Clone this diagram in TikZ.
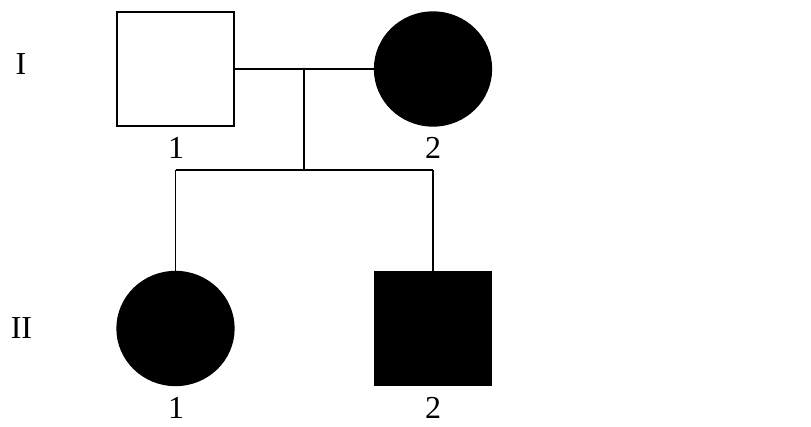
\documentclass[tikz,border=0pt]{standalone}
\usepackage{fontspec}
\setmainfont{Liberation Serif}
\usetikzlibrary{shapes.geometric}
\begin{document}
\begin{tikzpicture}[x=1pt,y=-1pt,
  line width=1.3pt,
  male/.style={rectangle,draw=black,inner sep=0pt,minimum width=117pt,minimum height=114pt},
  female/.style={ellipse,draw=black,inner sep=0pt,minimum width=117pt,minimum height=114pt},
  affected/.style={fill=black},
  lbl/.style={inner sep=0pt,font=\fontsize{32}{38}\selectfont}]
\useasboundingbox (0,0) rectangle (811,427);
\node[male] (i1) at (175.5,69) {};
\node[female,affected] (i2) at (433,69) {};
\node[female,affected] (ii1) at (175.5,328.5) {};
\node[male,affected] (ii2) at (433,328.5) {};
\node[lbl] (genI) at (21,64) {I};
\node[lbl] (genII) at (21.5,328) {II};
\node[lbl] (l11) at (176,148) {1};
\node[lbl] (l12) at (433,148) {2};
\node[lbl] (l21) at (176,408) {1};
\node[lbl] (l22) at (433,408) {2};
\coordinate (m) at (304,69);
\coordinate (s) at (304,170);
\coordinate (sl) at (175.5,170);
\coordinate (sr) at (433,170);
\draw (i1.east) -- (i2.west);
\draw (m) -- (s);
\draw (sl) -- (sr);
\draw (sl) -- (ii1.north);
\draw (sr) -- (ii2.north);
\end{tikzpicture}
\end{document}
